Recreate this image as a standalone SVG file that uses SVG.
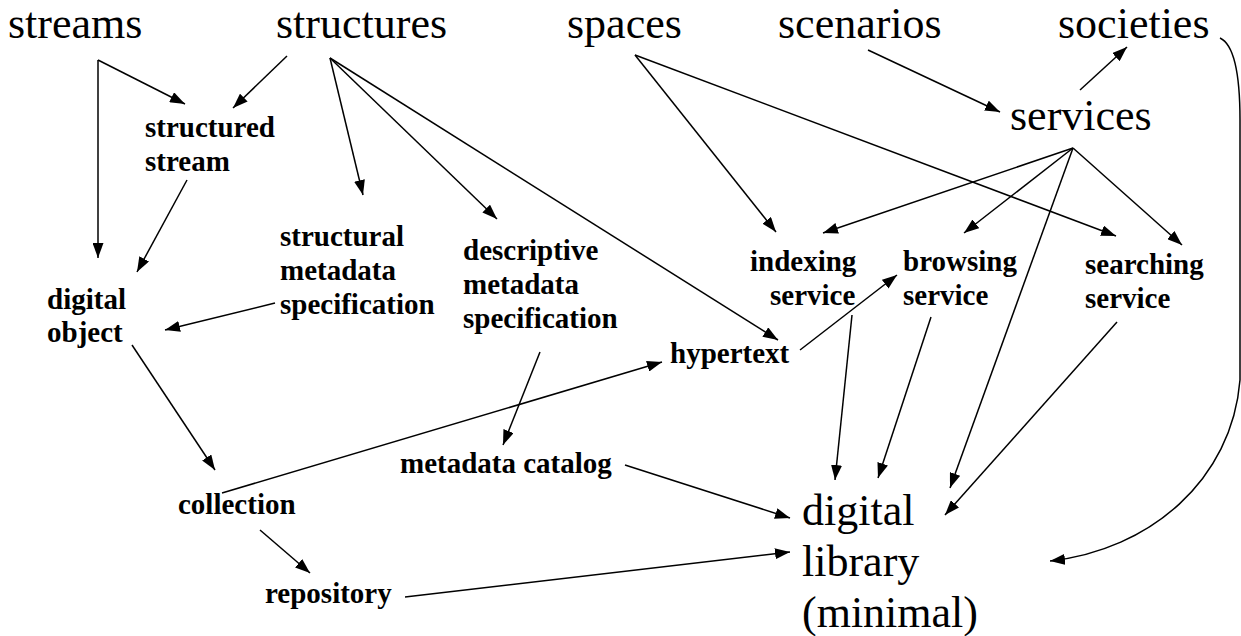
<svg xmlns="http://www.w3.org/2000/svg" width="1241" height="636" viewBox="0 0 1241 636">
<style>
text{fill:#000;font-family:'Liberation Serif','Times New Roman',serif}
.big{font-size:44px}
.b{font-size:29px;font-weight:bold}
.c{stroke:#000;stroke-width:1.5;fill:none}
.a{marker-end:url(#ah)}
</style>
<defs>
<marker id="ah" viewBox="0 0 15 11" refX="15" refY="5.5" markerWidth="15" markerHeight="11" markerUnits="userSpaceOnUse" orient="auto">
<path d="M0,0 L15,5.5 L0,11 z" fill="#000"/>
</marker>
</defs>
<rect width="1241" height="636" fill="#fff"/>
<g id="connectors">
<path class="c a" d="M98,60 L185,104"/>
<path class="c a" d="M98,60 L98,258"/>
<path class="c a" d="M287,56 L233,108"/>
<path class="c a" d="M330,58 L363,195"/>
<path class="c a" d="M330,58 L497,219"/>
<path class="c a" d="M330,58 L778,340"/>
<path class="c a" d="M187,180 L137,272"/>
<path class="c a" d="M275,303 L165,330"/>
<path class="c a" d="M132,345 L215,470"/>
<path class="c a" d="M222,493 L662,362"/>
<path class="c a" d="M540,352 L503,445"/>
<path class="c a" d="M625,465 L790,518"/>
<path class="c a" d="M260,530 L310,573"/>
<path class="c a" d="M405,597 L790,552"/>
<path class="c a" d="M635,55 L776,232"/>
<path class="c a" d="M635,55 L1116,236"/>
<path class="c a" d="M1073,148 L823,233"/>
<path class="c a" d="M1073,148 L964,233"/>
<path class="c a" d="M1073,148 L1182,245"/>
<path class="c a" d="M1073,148 L950,488"/>
<path class="c a" d="M852,315 L835,480"/>
<path class="c a" d="M800,350 L897,275"/>
<path class="c a" d="M931,317 L878,478"/>
<path class="c a" d="M1117,322 L945,515"/>
<path class="c a" d="M1080,90 L1127,47"/>
<path class="c a" d="M868,50 L1000,112"/>
<path class="c a" d="M1220,38 C1233,44 1240,70 1240,120 L1240,380 C1232,480 1150,550 1050,561"/>
</g>
<g id="streams"><text class="big" x="8" y="38">streams</text></g>
<g id="structures"><text class="big" x="276" y="38">structures</text></g>
<g id="spaces"><text class="big" x="567" y="38">spaces</text></g>
<g id="scenarios"><text class="big" x="778" y="38">scenarios</text></g>
<g id="societies"><text class="big" x="1058" y="38">societies</text></g>
<g id="services"><text class="big" x="1010" y="130">services</text></g>
<g id="structured-stream"><text class="b" x="145" y="137">structured</text><text class="b" x="145" y="171">stream</text></g>
<g id="structural-metadata"><text class="b" x="280" y="246">structural</text><text class="b" x="280" y="280">metadata</text><text class="b" x="280" y="314">specification</text></g>
<g id="descriptive-metadata"><text class="b" x="463" y="260">descriptive</text><text class="b" x="463" y="294">metadata</text><text class="b" x="463" y="328">specification</text></g>
<g id="digital-object"><text class="b" x="47" y="309">digital</text><text class="b" x="47" y="342">object</text></g>
<g id="indexing-service"><text class="b" x="750" y="271">indexing</text><text class="b" x="770" y="305">service</text></g>
<g id="browsing-service"><text class="b" x="903" y="271">browsing</text><text class="b" x="903" y="305">service</text></g>
<g id="searching-service"><text class="b" x="1085" y="274">searching</text><text class="b" x="1085" y="308">service</text></g>
<g id="hypertext"><text class="b" x="670" y="363">hypertext</text></g>
<g id="metadata-catalog"><text class="b" x="400" y="473">metadata catalog</text></g>
<g id="collection"><text class="b" x="178" y="514">collection</text></g>
<g id="repository"><text class="b" x="265" y="603">repository</text></g>
<g id="digital-library"><text class="big" x="802" y="525">digital</text><text class="big" x="802" y="576">library</text><text class="big" x="802" y="627">(minimal)</text></g>
</svg>
